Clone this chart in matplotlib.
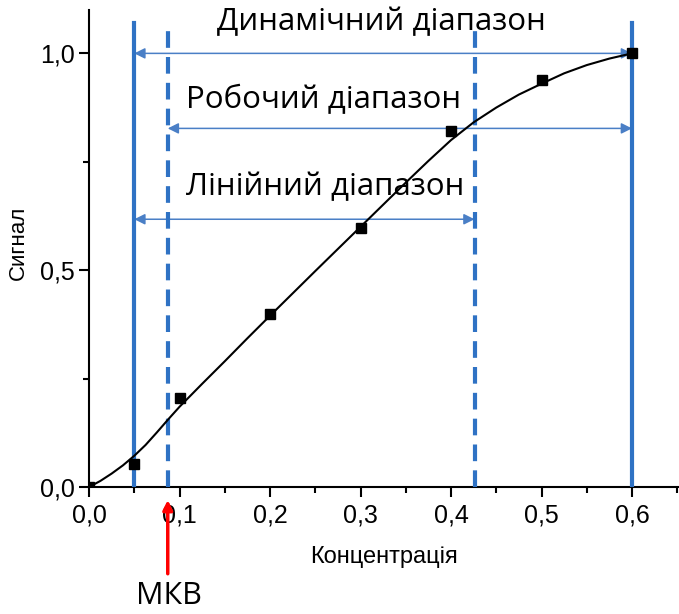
import matplotlib
matplotlib.use('Agg')
import matplotlib.pyplot as plt
from matplotlib.ticker import MultipleLocator, FuncFormatter

# Експериментальні точки
conc = [0.0, 0.05, 0.1, 0.2, 0.3, 0.4, 0.5, 0.6]
signal = [0.0, 0.053, 0.205, 0.40, 0.597, 0.82, 0.938, 1.0]

# Апроксимуюча крива
fit_x = [0.0, 0.0125, 0.025, 0.0375, 0.05, 0.0625, 0.075, 0.0875, 0.1, 0.125, 0.15, 0.175,
         0.2, 0.25, 0.3, 0.35, 0.375, 0.4, 0.425, 0.45, 0.475, 0.5, 0.525, 0.55, 0.575, 0.6]
fit_y = [0.0, 0.014, 0.031, 0.050, 0.072, 0.097, 0.126, 0.156, 0.185, 0.238, 0.290, 0.343,
         0.395, 0.498, 0.600, 0.702, 0.752, 0.800, 0.841, 0.875, 0.905, 0.930, 0.954, 0.973, 0.988, 1.0]

# Межі діапазонів
lod = 0.087      # МКВ
lin_max = 0.426  # верхня межа лінійного діапазону
dyn_min = 0.05
dyn_max = 0.6

blue = '#2f72c4'
arr_blue = '#4a7fc6'

fig = plt.figure(figsize=(6.79, 6.14), dpi=100)
ax = fig.add_axes([0.1311, 0.2068, 0.869, 0.7769])

ax.plot(fit_x, fit_y, color='black', lw=1.5, zorder=4)
ax.plot(conc, signal, 's', color='black', markersize=7, zorder=5)

# Вертикальні лінії
ax.plot([dyn_min, dyn_min], [0, 1.07], color=blue, lw=3, zorder=3)
ax.plot([dyn_max, dyn_max], [0, 1.07], color=blue, lw=3, zorder=3)
ax.plot([lod, lod], [0, 1.058], color=blue, lw=3, ls=(0, (4, 2.2)), zorder=3)
ax.plot([lin_max, lin_max], [0, 1.058], color=blue, lw=3, ls=(0, (4, 2.2)), zorder=3)

# Стрілки діапазонів
def range_arrow(x1, x2, y):
    ax.annotate('', xy=(x1, y), xytext=(x2, y),
                arrowprops=dict(arrowstyle='<|-|>', color=arr_blue, lw=1.1,
                                mutation_scale=16, shrinkA=0, shrinkB=0), zorder=2)

range_arrow(dyn_min, dyn_max, 1.0)
range_arrow(lod, dyn_max, 0.827)
range_arrow(dyn_min, lin_max, 0.6175)

txt_font = ['Open Sans', 'DejaVu Sans']
ax.text(0.323, 1.071, 'Динамічний діапазон', ha='center', va='center', fontsize=22.5, family=txt_font)
ax.text(0.259, 0.892, 'Робочий діапазон', ha='center', va='center', fontsize=22.5, family=txt_font)
ax.text(0.261, 0.691, 'Лінійний діапазон', ha='center', va='center', fontsize=22.5, family=txt_font)

ax.set_xlim(0, 0.652)
ax.set_ylim(0, 1.1)

for s in ['top', 'right']:
    ax.spines[s].set_visible(False)
for s in ['left', 'bottom']:
    ax.spines[s].set_linewidth(1.5)

ax.xaxis.set_major_locator(MultipleLocator(0.1))
ax.xaxis.set_minor_locator(MultipleLocator(0.05))
ax.yaxis.set_major_locator(MultipleLocator(0.5))
ax.yaxis.set_minor_locator(MultipleLocator(0.25))
comma = FuncFormatter(lambda v, p: ('%.1f' % v).replace('.', ','))
ax.xaxis.set_major_formatter(comma)
ax.yaxis.set_major_formatter(comma)
ax.tick_params(which='major', direction='out', length=7, width=1.5, labelsize=18)
ax.tick_params(which='minor', direction='out', length=4, width=1.5)
tick_font = ['Liberation Sans', 'DejaVu Sans']
for lab in ax.get_xticklabels() + ax.get_yticklabels():
    lab.set_family(tick_font)
ax.tick_params(axis='x', pad=5)
ax.tick_params(axis='y', pad=3)

ax.set_xlabel('Концентрація', fontsize=17, family=tick_font, va='center')
ax.xaxis.set_label_coords(0.5, -0.147)
ax.set_ylabel('Сигнал', fontsize=16, family=tick_font, va='center')
ax.yaxis.set_label_coords(-0.119, 0.512)

# МКВ
fig.text(169 / 679, 1 - 596 / 614, 'МКВ', ha='center', va='center', fontsize=22, family=txt_font)
ax.annotate('', xy=(lod, -0.03), xytext=(lod, -0.2), xycoords='data', textcoords='data',
            arrowprops=dict(arrowstyle='-|>', color='red', lw=2.5, mutation_scale=14,
                            shrinkA=0, shrinkB=0), annotation_clip=False)

fig.savefig('out.png', dpi=100)
